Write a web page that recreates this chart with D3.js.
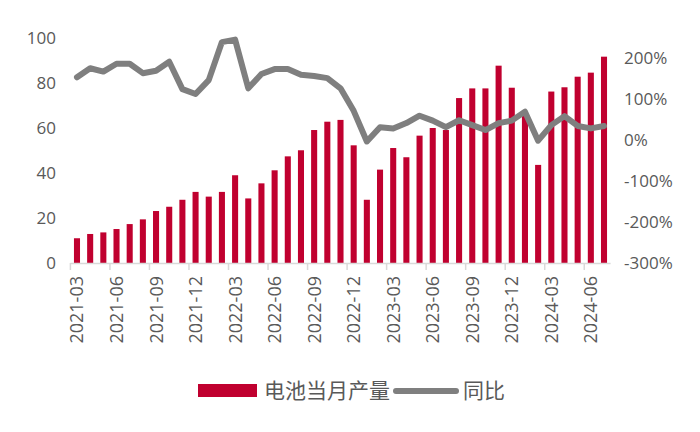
<!DOCTYPE html>
<html>
<head>
<meta charset="utf-8">
<script src="https://cdn.jsdelivr.net/npm/d3@7"></script>
<style>
  body { margin: 0; background: #fff; }
  svg text { font-family: "Open Sans", "Noto Sans CJK SC", sans-serif; fill: #595959; }
</style>
</head>
<body>
<div id="chart"></div>
<script>
// months, 2021-03 .. 2024-07
const months = [];
for (let y = 2021; y <= 2024; y++) {
  for (let m = 1; m <= 12; m++) {
    if ((y === 2021 && m < 3) || (y === 2024 && m > 7)) continue;
    months.push(`${y}-${String(m).padStart(2, '0')}`);
  }
}

// 电池当月产量 (GWh)
const output = [
  11.0, 12.9, 13.6, 15.1, 17.3, 19.4, 23.1, 25.0, 28.1, 31.6,
  29.5, 31.6, 39.0, 28.7, 35.4, 41.2, 47.4, 50.1, 59.1, 62.8,
  63.6, 52.3, 28.1, 41.5, 51.1, 47.0, 56.6, 60.0, 59.1, 73.3,
  77.6, 77.6, 87.7, 77.9, 66.0, 43.6, 76.2, 78.1, 82.8, 84.6,
  91.7
];

// 同比 (%)
const yoy = [
  154, 176, 168, 187, 187, 164, 170, 192, 125, 113,
  147, 240, 246, 127, 162, 174, 174, 160, 157, 152,
  127, 72, -3, 32, 29, 42, 60, 48, 32, 49,
  37, 25, 42, 48, 70, -1, 37, 59, 35, 29,
  35
];

const leftTicks = [0, 20, 40, 60, 80, 100];
const rightTicks = [-300, -200, -100, 0, 100, 200];

const width = 700;
const height = 432;
const plotLeft = 70.4;
const plotRight = 610.6;
const plotTop = 38;
const plotBottom = 263;

const svg = d3
  .select('#chart')
  .append('svg')
  .attr('width', width)
  .attr('height', height);

const x = d3.scaleBand().domain(months).range([plotLeft, plotRight]).paddingInner(0.54).paddingOuter(0.27);
const yLeft = d3.scaleLinear().domain([0, 100]).range([plotBottom, plotTop]);
const yRight = d3.scaleLinear().domain([-300, 250]).range([plotBottom, plotTop]);

// bars
svg
  .append('g')
  .selectAll('rect')
  .data(output)
  .enter()
  .append('rect')
  .attr('x', (d, i) => x(months[i]))
  .attr('y', (d) => yLeft(d))
  .attr('width', x.bandwidth())
  .attr('height', (d) => yLeft(0) - yLeft(d))
  .style('fill', '#c0002f');

// x axis line + ticks
const axisG = svg.append('g');
axisG
  .append('line')
  .attr('x1', plotLeft)
  .attr('x2', plotRight)
  .attr('y1', plotBottom + 0.5)
  .attr('y2', plotBottom + 0.5)
  .style('stroke', '#d9d9d9')
  .style('stroke-width', 1.5);

const labelled = months.filter((d, i) => i % 3 === 0);
axisG
  .selectAll('.tick')
  .data(labelled)
  .enter()
  .append('line')
  .attr('x1', (d) => x(d) - x.step() * 0.27)
  .attr('x2', (d) => x(d) - x.step() * 0.27)
  .attr('y1', plotBottom)
  .attr('y2', plotBottom + 7)
  .style('stroke', '#d9d9d9')
  .style('stroke-width', 1.5);

axisG
  .selectAll('.xlabel')
  .data(labelled)
  .enter()
  .append('text')
  .attr('transform', (d) => `translate(${x(d) + x.bandwidth() / 2 + 6.5},${plotBottom + 13}) rotate(-90)`)
  .attr('text-anchor', 'end')
  .style('font-size', '18px')
  .text((d) => d);

// left axis labels
svg
  .append('g')
  .selectAll('text')
  .data(leftTicks)
  .enter()
  .append('text')
  .attr('x', 56)
  .attr('y', (d) => yLeft(d))
  .attr('dy', '0.35em')
  .attr('text-anchor', 'end')
  .style('font-size', '17px')
  .text((d) => d);

// right axis labels
svg
  .append('g')
  .selectAll('text')
  .data(rightTicks)
  .enter()
  .append('text')
  .attr('x', 624)
  .attr('y', (d) => yRight(d))
  .attr('dy', '0.35em')
  .attr('text-anchor', 'start')
  .style('font-size', '17px')
  .text((d) => d + '%');

// yoy line
const line = d3
  .line()
  .x((d, i) => x(months[i]) + x.bandwidth() / 2)
  .y((d) => yRight(d));

svg
  .append('path')
  .datum(yoy)
  .attr('d', line)
  .style('fill', 'none')
  .style('stroke', '#7f7f7f')
  .style('stroke-width', 6)
  .style('stroke-linejoin', 'round')
  .style('stroke-linecap', 'round');

// legend
const legend = svg.append('g');
legend
  .append('rect')
  .attr('x', 198)
  .attr('y', 384)
  .attr('width', 59)
  .attr('height', 13)
  .style('fill', '#c0002f');
legend
  .append('text')
  .attr('x', 264)
  .attr('y', 391)
  .attr('dy', '0.35em')
  .style('font-size', '21px')
  .text('电池当月产量');
legend
  .append('line')
  .attr('x1', 396)
  .attr('x2', 456)
  .attr('y1', 391)
  .attr('y2', 391)
  .style('stroke', '#7f7f7f')
  .style('stroke-width', 6)
  .style('stroke-linecap', 'round');
legend
  .append('text')
  .attr('x', 463)
  .attr('y', 391)
  .attr('dy', '0.35em')
  .style('font-size', '21px')
  .text('同比');
</script>
</body>
</html>
